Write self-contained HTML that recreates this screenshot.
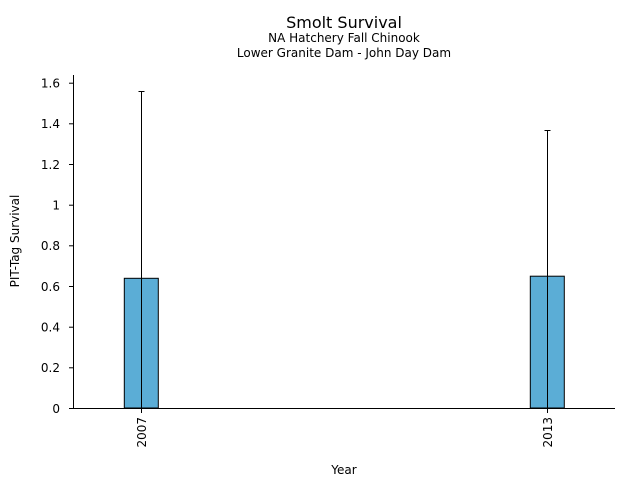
<!DOCTYPE html>
<html><head><style>body{margin:0;background:#fff}svg{display:block}text{font-family:"DejaVu Sans","Liberation Sans",sans-serif;fill:#000}</style></head><body>
<svg width="640" height="480" viewBox="0 0 640 480">
<text x="344" y="28" font-size="16" text-anchor="middle">Smolt Survival</text>
<text x="344" y="42" font-size="12" text-anchor="middle">NA Hatchery Fall Chinook</text>
<text x="344" y="57" font-size="12" text-anchor="middle">Lower Granite Dam - John Day Dam</text>
<rect x="124.3" y="278.3" width="34" height="129.7" fill="#5badd6" stroke="#000" stroke-width="1"/>
<rect x="530.3" y="276.2" width="34" height="131.8" fill="#5badd6" stroke="#000" stroke-width="1"/>
<g stroke="#000" stroke-width="1">
<line x1="141.5" y1="91.5" x2="141.5" y2="408"/><line x1="138.5" y1="91.5" x2="144.5" y2="91.5"/>
<line x1="547.5" y1="130.5" x2="547.5" y2="408"/><line x1="544.5" y1="130.5" x2="550.5" y2="130.5"/>
<line x1="73.5" y1="75" x2="73.5" y2="408.5"/><line x1="73" y1="408.5" x2="615" y2="408.5"/>
<g>
<line x1="69" y1="408.5" x2="73" y2="408.5"/><line x1="69" y1="367.8" x2="73" y2="367.8"/><line x1="69" y1="327.2" x2="73" y2="327.2"/><line x1="69" y1="286.5" x2="73" y2="286.5"/><line x1="69" y1="245.8" x2="73" y2="245.8"/><line x1="69" y1="205.2" x2="73" y2="205.2"/><line x1="69" y1="164.5" x2="73" y2="164.5"/><line x1="69" y1="123.8" x2="73" y2="123.8"/><line x1="69" y1="83.2" x2="73" y2="83.2"/>
<line x1="141.5" y1="408" x2="141.5" y2="413"/><line x1="547.5" y1="408" x2="547.5" y2="413"/>
</g></g>
<g font-size="12" text-anchor="end">
<text x="60" y="412.8">0</text><text x="60" y="372.1">0.2</text><text x="60" y="331.5">0.4</text><text x="60" y="290.8">0.6</text><text x="60" y="250.1">0.8</text><text x="60" y="209.5">1</text><text x="60" y="168.8">1.2</text><text x="60" y="128.1">1.4</text><text x="60" y="87.5">1.6</text>
</g>
<text font-size="12" text-anchor="end" transform="translate(146,417) rotate(-90)">2007</text>
<text font-size="12" text-anchor="end" transform="translate(552,417) rotate(-90)">2013</text>
<text x="344" y="474" font-size="12" text-anchor="middle">Year</text>
<text font-size="12" text-anchor="middle" transform="translate(19,241) rotate(-90)">PIT-Tag Survival</text>
</svg>
</body></html>
